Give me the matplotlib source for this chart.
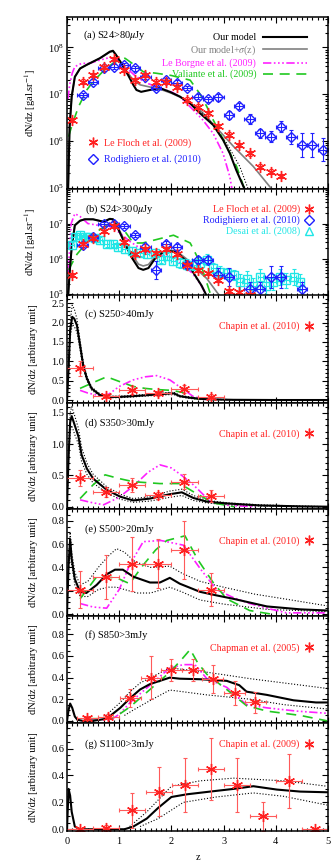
import numpy as np
import matplotlib
matplotlib.use('Agg')
import matplotlib.pyplot as plt
from matplotlib.lines import Line2D
from matplotlib.ticker import MultipleLocator, LogLocator, FormatStrFormatter, NullFormatter

plt.rcParams['font.family'] = ['Liberation Serif', 'DejaVu Serif']
plt.rcParams['mathtext.fontset'] = 'stix'

# ---------------- Panel (a) S24>80 uJy (log10 values) ----------------
a_model_z = [0.02, 0.05, 0.09, 0.15, 0.25, 0.38, 0.63, 0.82, 0.88, 0.94, 1.04, 1.17, 1.27, 1.33, 1.42,
             1.59, 1.78, 1.97, 2.16, 2.36, 2.55, 2.80, 2.99, 3.12, 3.24, 3.40]
a_model = [4.9, 6.3, 6.95, 7.37, 7.55, 7.63, 7.77, 7.91, 7.93, 7.84, 7.66, 7.41, 7.20, 7.09, 7.05,
           7.09, 7.13, 7.05, 6.95, 6.80, 6.59, 6.34, 6.02, 5.73, 5.38, 4.97]
a_sig_z = [0.02, 0.05, 0.09, 0.15, 0.25, 0.38, 0.63, 0.82, 0.88, 0.94, 1.04, 1.17, 1.27, 1.40, 1.60,
           1.80, 2.00, 2.20, 2.40, 2.55, 2.80, 3.19, 3.57, 3.92]
a_sig = [4.9, 6.3, 6.95, 7.37, 7.55, 7.63, 7.77, 7.90, 7.92, 7.84, 7.67, 7.45, 7.30, 7.20, 7.15,
         7.10, 7.02, 6.92, 6.78, 6.66, 6.36, 5.88, 5.45, 4.97]
a_dot_z = [2.40, 2.68, 3.06, 3.31, 3.47]
a_dot = [6.75, 6.52, 5.95, 5.45, 4.97]
a_lb_z = [0.02, 0.05, 0.10, 0.15, 0.28, 0.43, 0.60, 0.80, 0.95, 1.10, 1.30, 1.50, 1.80, 2.00, 2.16,
          2.42, 2.60, 2.80, 2.99, 3.12, 3.16]
a_lb = [6.9, 7.2, 7.45, 7.59, 7.66, 7.66, 7.72, 7.78, 7.75, 7.60, 7.40, 7.25, 7.12, 7.05, 6.95,
        6.66, 6.45, 6.16, 5.73, 5.23, 4.97]
a_va_z = [0.03, 0.10, 0.22, 0.38, 0.50, 0.70, 0.90, 1.11, 1.30, 1.46, 1.70, 2.00, 2.36, 2.55, 2.68,
          2.80, 3.06, 3.25, 3.40]
a_va = [6.09, 6.35, 6.73, 7.09, 7.27, 7.50, 7.68, 7.77, 7.62, 7.48, 7.45, 7.40, 7.30, 7.00, 6.73,
        6.45, 5.88, 5.45, 4.97]
a_lf_z = [0.1, 0.3, 0.5, 0.7, 0.9, 1.1, 1.3, 1.5, 1.7, 1.9, 2.1, 2.3, 2.5, 2.7, 2.9, 3.1, 3.3, 3.5,
          3.7, 3.9, 4.1]
a_lf = [6.45, 7.27, 7.41, 7.59, 7.75, 7.52, 7.30, 7.41, 7.27, 7.27, 7.16, 6.88, 6.73, 6.59, 6.32,
        6.13, 5.91, 5.73, 5.45, 5.34, 5.25]
a_lf_err = [0.05] * 21
a_ro_z = [0.3, 0.5, 0.7, 0.9, 1.1, 1.3, 1.5, 1.7, 1.9, 2.1, 2.3, 2.5, 2.7, 2.9, 3.1, 3.3, 3.5, 3.7,
          3.9, 4.1, 4.3, 4.5, 4.7, 4.9]
a_ro = [6.98, 7.27, 7.55, 7.59, 7.62, 7.55, 7.37, 7.13, 7.30, 7.25, 7.13, 6.95, 6.89, 6.93, 6.55,
        6.75, 6.47, 6.16, 6.09, 6.30, 6.09, 5.91, 5.91, 5.81]
a_ro_err = [0.05] * 13 + [0.07, 0.08, 0.07, 0.10, 0.10, 0.12, 0.12, 0.15, 0.25, 0.25, 0.25]

# ---------------- Panel (b) S24>300 uJy (log10 values) ----------------
b_model_z = [0.02, 0.05, 0.09, 0.15, 0.25, 0.34, 0.50, 0.70, 0.82, 0.88, 0.98, 1.11, 1.24, 1.37, 1.46,
             1.56, 1.72, 1.91, 2.10, 2.29, 2.45, 2.58, 2.68]
b_model = [4.9, 5.6, 6.33, 6.95, 7.08, 7.12, 7.12, 7.05, 7.13, 7.12, 6.85, 6.43, 6.04, 5.74, 5.69,
           5.74, 6.08, 6.23, 6.19, 5.93, 5.54, 5.24, 4.94]
b_sig_z = [0.02, 0.05, 0.09, 0.15, 0.25, 0.34, 0.50, 0.70, 0.82, 0.88, 0.98, 1.11, 1.24, 1.37, 1.46,
           1.56, 1.72, 1.91, 2.10, 2.29, 2.45, 2.68, 2.93]
b_sig = [4.9, 5.6, 6.33, 6.95, 7.08, 7.12, 7.12, 7.05, 7.14, 7.13, 6.88, 6.50, 6.12, 5.85, 5.80,
         5.84, 6.12, 6.26, 6.22, 6.00, 5.75, 5.44, 4.94]
b_lb_z = [0.02, 0.08, 0.15, 0.25, 0.40, 0.60, 0.80, 1.00, 1.20, 1.50, 1.80, 2.00, 2.20, 2.40, 2.55, 2.66]
b_lb = [5.6, 7.0, 7.28, 7.2, 7.0, 6.95, 6.93, 6.75, 6.50, 6.20, 6.10, 6.05, 5.85, 5.60, 5.30, 5.00]
b_va_z = [0.03, 0.19, 0.40, 0.60, 0.89, 1.05, 1.27, 1.45, 1.72, 2.04, 2.36, 2.55, 2.74]
b_va = [5.69, 6.13, 6.50, 6.80, 7.05, 6.90, 6.45, 6.45, 6.55, 6.67, 6.45, 5.90, 5.04]
b_lf_z = [0.1, 0.3, 0.5, 0.7, 0.9, 1.1, 1.3, 1.5, 1.7, 1.9, 2.1, 2.3, 2.5, 2.7, 2.9, 3.1, 3.3, 3.5]
b_lf = [5.54, 6.43, 6.58, 6.78, 6.93, 6.48, 6.13, 6.28, 6.18, 6.28, 6.13, 5.84, 5.69, 5.59, 5.39,
        5.09, 5.05, 4.99]
b_lf_err = [0.05] * 18
b_ro_z = [0.3, 0.5, 0.7, 0.9, 1.1, 1.3, 1.5, 1.7, 1.9, 2.1, 2.3, 2.5, 2.7, 2.9, 3.1, 3.5, 3.7, 3.9,
          4.1, 4.5]
b_ro = [6.40, 6.63, 6.98, 6.98, 6.93, 6.68, 6.33, 5.69, 6.43, 6.33, 5.84, 5.98, 5.98, 5.54, 5.49,
        5.14, 5.14, 5.49, 5.49, 5.14]
b_ro_err = [0.05, 0.05, 0.05, 0.05, 0.05, 0.06, 0.08, 0.25, 0.08, 0.08, 0.10, 0.10, 0.10, 0.20, 0.25,
            0.20, 0.20, 0.30, 0.30, 0.20]
b_de_z = [0.09, 0.15, 0.25, 0.34, 0.44, 0.54, 0.63, 0.76, 0.89, 0.98, 1.11, 1.24, 1.40, 1.53, 1.69,
          1.81, 1.91, 2.04, 2.16, 2.29, 2.42, 2.55, 2.68, 2.80, 2.93, 3.06, 3.19, 3.31, 3.44, 3.57,
          3.70, 3.82, 3.95, 4.08, 4.20, 4.34, 4.46]
b_de = [6.38, 6.63, 6.68, 6.63, 6.63, 6.58, 6.53, 6.43, 6.43, 6.33, 6.28, 6.23, 6.18, 6.13, 6.18,
        5.98, 6.08, 5.93, 5.88, 5.84, 5.84, 5.89, 5.98, 5.74, 5.64, 5.59, 5.54, 5.34, 5.44, 5.24,
        5.49, 5.24, 5.34, 5.49, 5.39, 5.49, 5.34]
b_de_err = [0.10] * 18 + [0.15] * 9 + [0.22] * 10

# ---------------- Panel (c) S250>40 mJy ----------------
c_model_z = [0.0, 0.03, 0.06, 0.10, 0.14, 0.19, 0.25, 0.31, 0.38, 0.47, 0.63, 0.82, 1.00, 1.27, 1.59,
             1.97, 2.05, 2.16, 2.35, 2.55, 2.80, 3.19, 4.00, 5.00]
c_model = [0.0, 0.8, 1.8, 2.15, 2.10, 1.93, 1.42, 0.90, 0.56, 0.30, 0.13, 0.08, 0.08, 0.10, 0.13,
           0.17, 0.17, 0.10, 0.06, 0.03, 0.015, 0.005, 0.0, 0.0]
c_up = [0.0, 0.9, 2.0, 2.45, 2.35, 2.10, 1.55, 1.00, 0.62, 0.34, 0.16, 0.10, 0.10, 0.12, 0.15,
        0.20, 0.20, 0.12, 0.08, 0.04, 0.02, 0.01, 0.0, 0.0]
c_lo = [0.0, 0.7, 1.6, 1.95, 1.90, 1.75, 1.30, 0.80, 0.50, 0.26, 0.10, 0.06, 0.06, 0.08, 0.11,
        0.14, 0.14, 0.08, 0.04, 0.02, 0.01, 0.0, 0.0, 0.0]
c_lb_z = [0.25, 0.40, 0.60, 0.80, 1.00, 1.27, 1.50, 1.72, 1.97, 2.20, 2.42, 2.70]
c_lb = [0.25, 0.18, 0.12, 0.15, 0.35, 0.52, 0.60, 0.63, 0.52, 0.30, 0.09, 0.0]
c_va_z = [0.25, 0.50, 0.76, 1.00, 1.27, 1.50, 1.72, 2.00, 2.20, 2.42, 2.65]
c_va = [0.30, 0.45, 0.60, 0.48, 0.35, 0.30, 0.27, 0.25, 0.20, 0.05, 0.0]
c_obs_z = [0.25, 0.75, 1.25, 1.75, 2.25, 2.75]
c_obs = [0.82, 0.11, 0.26, 0.17, 0.28, 0.09]
c_obs_err = [0.20, 0.05, 0.10, 0.06, 0.10, 0.06]

# ---------------- Panel (d) S350>30 mJy ----------------
d_model_z = [0.0, 0.03, 0.06, 0.09, 0.15, 0.22, 0.28, 0.38, 0.50, 0.76, 1.02, 1.27, 1.59, 1.97, 2.20,
             2.42, 2.68, 3.10, 3.70, 4.50, 5.00]
d_model = [0.0, 0.8, 1.35, 1.45, 1.30, 1.12, 0.83, 0.61, 0.45, 0.27, 0.16, 0.10, 0.13, 0.20, 0.23,
           0.14, 0.08, 0.05, 0.02, 0.005, 0.0]
d_up = [0.0, 0.9, 1.50, 1.60, 1.45, 1.25, 0.95, 0.70, 0.52, 0.32, 0.20, 0.13, 0.16, 0.25, 0.28,
        0.18, 0.10, 0.06, 0.03, 0.01, 0.0]
d_lo = [0.0, 0.7, 1.20, 1.30, 1.15, 1.00, 0.72, 0.52, 0.38, 0.22, 0.12, 0.07, 0.09, 0.15, 0.18,
        0.10, 0.06, 0.03, 0.01, 0.0, 0.0]
d_lb_z = [0.25, 0.45, 0.70, 1.00, 1.30, 1.55, 1.78, 2.00, 2.20, 2.42, 2.75, 3.10, 3.60]
d_lb = [0.11, 0.07, 0.03, 0.15, 0.35, 0.55, 0.67, 0.62, 0.50, 0.35, 0.08, 0.02, 0.0]
d_va_z = [0.25, 0.50, 0.73, 1.00, 1.27, 1.78, 2.16, 2.42, 2.80, 3.20]
d_va = [0.13, 0.35, 0.51, 0.45, 0.40, 0.37, 0.37, 0.24, 0.06, 0.0]
d_obs_z = [0.25, 0.75, 1.25, 1.75, 2.25, 2.75]
d_obs = [0.46, 0.24, 0.35, 0.18, 0.40, 0.17]
d_obs_err = [0.13, 0.08, 0.11, 0.06, 0.12, 0.10]

# ---------------- Panel (e) S500>20 mJy ----------------
e_model_z = [0.0, 0.03, 0.06, 0.09, 0.15, 0.25, 0.37, 0.57, 0.76, 0.92, 1.07, 1.27, 1.59, 1.78, 1.97,
             2.16, 2.55, 2.86, 3.19, 3.83, 4.47, 4.98]
e_model = [0.0, 0.42, 0.64, 0.47, 0.30, 0.19, 0.18, 0.25, 0.34, 0.38, 0.38, 0.32, 0.27, 0.27, 0.31,
           0.26, 0.19, 0.16, 0.13, 0.065, 0.04, 0.03]
e_up_z = [0.0, 0.03, 0.06, 0.09, 0.15, 0.25, 0.40, 0.60, 0.80, 0.95, 1.10, 1.30, 1.60, 1.97, 2.20,
          2.55, 3.00, 3.60, 4.30, 4.98]
e_up = [0.0, 0.47, 0.70, 0.53, 0.36, 0.25, 0.28, 0.40, 0.50, 0.56, 0.53, 0.45, 0.40, 0.41, 0.35,
        0.28, 0.23, 0.17, 0.12, 0.07]
e_lo_z = [0.0, 0.03, 0.06, 0.09, 0.15, 0.25, 0.40, 0.60, 0.80, 0.95, 1.10, 1.34, 1.60, 1.97, 2.20,
          2.55, 3.00, 3.83, 4.98]
e_lo = [0.0, 0.37, 0.58, 0.42, 0.25, 0.15, 0.15, 0.21, 0.23, 0.23, 0.21, 0.18, 0.18, 0.23, 0.19,
        0.12, 0.085, 0.04, 0.02]
e_lb_z = [0.25, 0.50, 0.76, 1.00, 1.20, 1.46, 1.80, 2.23, 2.55, 2.86, 3.19, 3.50, 3.83, 4.20, 4.98]
e_lb = [0.09, 0.06, 0.05, 0.21, 0.42, 0.62, 0.63, 0.59, 0.39, 0.21, 0.14, 0.09, 0.05, 0.01, 0.01]
e_va_z = [0.25, 0.57, 0.95, 1.20, 1.46, 1.70, 1.91, 2.26, 2.50, 2.80, 3.06, 3.50, 3.90]
e_va = [0.13, 0.32, 0.31, 0.26, 0.42, 0.55, 0.63, 0.67, 0.47, 0.27, 0.13, 0.03, 0.0]
e_obs_z = [0.25, 0.75, 1.25, 1.75, 2.25, 2.75]
e_obs = [0.21, 0.32, 0.43, 0.43, 0.55, 0.21]
e_obs_err = [0.16, 0.19, 0.23, 0.21, 0.25, 0.14]

# ---------------- Panel (f) S850>3 mJy ----------------
f_model_z = [0.0, 0.03, 0.06, 0.10, 0.15, 0.20, 0.30, 0.50, 0.76, 1.02, 1.21, 1.40, 1.59, 1.78, 1.97,
             2.16, 2.55, 3.06, 3.30, 3.44, 3.83, 4.34, 4.77, 4.98]
f_model = [0.0, 0.10, 0.16, 0.12, 0.04, 0.01, 0.0, 0.0, 0.02, 0.12, 0.21, 0.29, 0.34, 0.37, 0.40,
           0.39, 0.385, 0.37, 0.33, 0.27, 0.24, 0.19, 0.17, 0.17]
f_up_z = [0.70, 1.02, 1.21, 1.40, 1.97, 2.68, 3.51, 4.98]
f_up = [0.03, 0.17, 0.27, 0.35, 0.49, 0.45, 0.39, 0.30]
f_lo_z = [1.10, 1.27, 1.60, 1.97, 2.68, 3.51, 4.15, 4.98]
f_lo = [0.05, 0.10, 0.19, 0.285, 0.24, 0.20, 0.15, 0.11]
f_lb_z = [0.40, 0.84, 1.00, 1.21, 1.59, 1.97, 2.23, 2.45, 2.68, 3.06, 3.44, 3.83, 4.40, 4.98]
f_lb = [0.01, 0.01, 0.06, 0.17, 0.33, 0.49, 0.52, 0.52, 0.39, 0.31, 0.15, 0.12, 0.09, 0.07]
f_va_z = [0.40, 0.84, 1.00, 1.21, 1.59, 1.97, 2.20, 2.36, 2.50, 2.68, 3.06, 3.44, 3.83, 4.47, 4.98]
f_va = [0.02, 0.02, 0.06, 0.13, 0.29, 0.45, 0.57, 0.66, 0.54, 0.43, 0.29, 0.14, 0.09, 0.05, 0.0]
f_obs_z = [0.39, 0.79, 1.21, 1.61, 2.00, 2.41, 2.79, 3.21, 3.61]
f_obs = [0.025, 0.04, 0.21, 0.40, 0.47, 0.47, 0.39, 0.26, 0.17]
f_obs_err = [0.02, 0.02, 0.08, 0.20, 0.10, 0.10, 0.13, 0.11, 0.10]
f_obs_xerr = [0.2, 0.2, 0.2, 0.2, 0.2, 0.2, 0.2, 0.2, 0.2]

# ---------------- Panel (g) S1100>3 mJy ----------------
g_model_z = [0.0, 0.03, 0.06, 0.09, 0.15, 0.25, 0.50, 1.00, 1.10, 1.27, 1.53, 1.75, 2.00, 2.30, 2.74,
             3.19, 3.57, 4.02, 4.47, 4.98]
g_model = [0.0, 0.30, 0.25, 0.13, 0.02, 0.0, 0.0, 0.0, 0.0, 0.02, 0.08, 0.16, 0.24, 0.26, 0.28,
           0.30, 0.32, 0.295, 0.28, 0.275]
g_up_z = [1.20, 1.53, 2.00, 2.55, 3.19, 4.15, 4.98]
g_up = [0.02, 0.13, 0.32, 0.36, 0.38, 0.36, 0.32]
g_lo_z = [1.40, 1.75, 2.23, 2.86, 3.57, 4.15, 4.98]
g_lo = [0.02, 0.08, 0.20, 0.24, 0.27, 0.245, 0.18]
g_obs_z = [0.24, 0.75, 1.25, 1.76, 2.26, 2.75, 3.25, 3.76, 4.25, 4.76]
g_obs = [0.0, 0.01, 0.14, 0.28, 0.33, 0.45, 0.33, 0.095, 0.36, 0.0]
g_obs_err = [0.01, 0.02, 0.13, 0.18, 0.20, 0.23, 0.20, 0.11, 0.20, 0.01]

# ---------------- styling ----------------
RED = '#ff2020'
RED_E = '#ff5a5a'
BLUE = '#2020ff'
CYAN = '#20e6e6'
MAG = '#ff20ff'
GRN = '#20c820'
GRAY = '#808080'
AST = (6, 2, 0)
LB_LS = (0, (5, 1.5, 1, 1.5, 1, 1.5, 1, 1.5))
VA_LS = (0, (6, 4))

W, H = 334, 866
fig = plt.figure(figsize=(W / 100, H / 100), dpi=100)

panels = [(17, 189), (189, 295.5), (295.5, 403), (403, 509), (509, 616), (616, 723), (723, 831)]
axes = []
for top, bot in panels:
    ax = fig.add_axes([67 / W, 1 - bot / H, 261 / W, (bot - top) / H])
    ax.set_xlim(0, 5)
    ax.xaxis.set_major_locator(MultipleLocator(1))
    ax.xaxis.set_minor_locator(MultipleLocator(0.1))
    ax.tick_params(which='both', direction='in', top=True, right=True, labelsize=7.5, width=0.8, pad=2)
    ax.tick_params(which='major', length=4)
    ax.tick_params(which='minor', length=2)
    for s in ax.spines.values():
        s.set_linewidth(1.1)
    axes.append(ax)

for ax in axes[:-1]:
    ax.tick_params(labelbottom=False)

LW = 1.5


def logpts(ax, z, lg, dlg, color, marker, ms, xerr=0.1, mfc='none'):
    lg = np.asarray(lg)
    dlg = np.asarray(dlg)
    y = 10 ** lg
    yerr = [y - 10 ** (lg - dlg), 10 ** (lg + dlg) - y]
    ax.errorbar(z, y, yerr=yerr, xerr=xerr, fmt='none', ecolor=color, elinewidth=0.8, capsize=1.5,
                capthick=0.8)
    ax.plot(z, y, ls='none', marker=marker, color=color, ms=ms, mfc=mfc, mew=1.0)


def linpts(ax, z, v, dv, xerr=0.25):
    ax.errorbar(z, v, yerr=dv, xerr=xerr, fmt='none', ecolor=RED_E, elinewidth=0.8, capsize=1.5,
                capthick=0.8)
    ax.plot(z, v, ls='none', marker=AST, color=RED, ms=8, mew=1.0)


def setup_log(ax, ylim, label):
    ax.set_yscale('log')
    ax.set_ylim(*ylim)
    ax.yaxis.set_major_locator(LogLocator(base=10, numticks=10))
    ax.yaxis.set_minor_locator(LogLocator(base=10, subs=np.arange(2, 10), numticks=20))
    ax.yaxis.set_minor_formatter(NullFormatter())
    ax.set_ylabel(label, fontsize=7.5)
    ax.yaxis.set_label_coords(-0.11, 0.5)


def setup_lin(ax, ylim, major, minor):
    ax.set_ylim(*ylim)
    ax.yaxis.set_major_locator(MultipleLocator(major))
    ax.yaxis.set_minor_locator(MultipleLocator(minor))
    ax.yaxis.set_major_formatter(FormatStrFormatter('%.1f'))
    ax.set_ylabel('dN/dz [arbitrary unit]', fontsize=7.5)
    ax.yaxis.set_label_coords(-0.11, 0.5)


def obs_legend(ax, label, marker, color, y):
    h = [Line2D([], [], ls='none', marker=marker, color=color, mfc='none', ms=7, mew=1.0)]
    leg = ax.legend(h, [label], loc='center right', bbox_to_anchor=(0.965, y), frameon=False,
                    markerfirst=False, fontsize=7.2, handlelength=1.0, handletextpad=0.4,
                    borderpad=0, labelcolor='linecolor')
    return leg


# ---- (a)
ax = axes[0]
ax.plot(a_sig_z, 10 ** np.array(a_sig), color=GRAY, lw=1.2)
ax.plot(a_dot_z, 10 ** np.array(a_dot), color='k', lw=0.8, ls=':')
ax.plot(a_lb_z, 10 ** np.array(a_lb), color=MAG, lw=1.2, ls=LB_LS)
ax.plot(a_va_z, 10 ** np.array(a_va), color=GRN, lw=1.2, ls=VA_LS)
ax.plot(a_model_z, 10 ** np.array(a_model), color='k', lw=LW)
logpts(ax, a_ro_z, a_ro, a_ro_err, BLUE, 'D', 5.5)
logpts(ax, a_lf_z, a_lf, a_lf_err, RED, AST, 8, xerr=None)
setup_log(ax, (9.3e4, 4.5e8), 'dN/dz [gal.sr$^{-1}$]')
ax.text(0.06, 0.895, r'(a) S24>80$\mu$Jy', transform=ax.transAxes, fontsize=7.5, va='center')
hl = [Line2D([], [], color='k', lw=LW), Line2D([], [], color=GRAY, lw=1.2),
      Line2D([], [], color=MAG, lw=1.2, ls=LB_LS), Line2D([], [], color=GRN, lw=1.2, ls=VA_LS)]
leg1 = ax.legend(hl, ['Our model', r'Our model+$\sigma$(z)', 'Le Borgne et al. (2009)',
                      'Valiante et al. (2009)'],
                 loc='upper right', bbox_to_anchor=(0.94, 0.935), frameon=False, markerfirst=False,
                 fontsize=7.2, handlelength=4.4, handletextpad=0.7, labelspacing=0.15,
                 borderpad=0, labelcolor='linecolor')
ax.add_artist(leg1)
hm = [Line2D([], [], ls='none', marker=AST, color=RED, ms=7, mew=1.0),
      Line2D([], [], ls='none', marker='D', color=BLUE, mfc='none', ms=5, mew=1.0)]
ax.legend(hm, ['Le Floch et al. (2009)', 'Rodighiero et al. (2010)'], loc='upper left',
          bbox_to_anchor=(0.06, 0.325), frameon=False, fontsize=7.2, handlelength=1.0,
          handletextpad=0.6, labelspacing=0.7, borderpad=0, labelcolor='linecolor')

# ---- (b)
ax = axes[1]
ax.plot(b_sig_z, 10 ** np.array(b_sig), color=GRAY, lw=1.2)
ax.plot(b_lb_z, 10 ** np.array(b_lb), color=MAG, lw=1.2, ls=LB_LS)
ax.plot(b_va_z, 10 ** np.array(b_va), color=GRN, lw=1.2, ls=VA_LS)
ax.plot(b_model_z, 10 ** np.array(b_model), color='k', lw=LW)
logpts(ax, b_de_z, b_de, b_de_err, CYAN, 's', 6, xerr=0.05)
logpts(ax, b_ro_z, b_ro, b_ro_err, BLUE, 'D', 5.5)
logpts(ax, b_lf_z, b_lf, b_lf_err, RED, AST, 8, xerr=None)
setup_log(ax, (9.2e4, 9.5e7), 'dN/dz [gal.sr$^{-1}$]')
ax.text(0.07, 0.81, r'(b) S24>300$\mu$Jy', transform=ax.transAxes, fontsize=7.5, va='center')
hb = [Line2D([], [], ls='none', marker=AST, color=RED, ms=7, mew=1.0),
      Line2D([], [], ls='none', marker='D', color=BLUE, mfc='none', ms=5, mew=1.0),
      Line2D([], [], ls='none', marker='^', color=CYAN, mfc='none', ms=6, mew=1.0)]
ax.legend(hb, ['Le Floch et al. (2009)', 'Rodighiero et al. (2010)', 'Desai et al. (2008)'],
          loc='upper right', bbox_to_anchor=(0.965, 0.90), frameon=False, markerfirst=False,
          fontsize=7.2, handlelength=1.0, handletextpad=0.4, labelspacing=0.15, borderpad=0,
          labelcolor='linecolor')

# ---- (c)
ax = axes[2]
ax.plot(c_model_z, c_up, color='k', lw=0.8, ls=':')
ax.plot(c_model_z, c_lo, color='k', lw=0.8, ls=':')
ax.plot(c_lb_z, c_lb, color=MAG, lw=1.2, ls=LB_LS)
ax.plot(c_va_z, c_va, color=GRN, lw=1.2, ls=VA_LS)
ax.plot(c_model_z, c_model, color='k', lw=LW)
linpts(ax, c_obs_z, c_obs, c_obs_err)
setup_lin(ax, (-0.077, 2.7), 0.5, 0.1)
ax.text(0.07, 0.825, '(c) S250>40mJy', transform=ax.transAxes, fontsize=7.5, va='center')
obs_legend(ax, 'Chapin et al. (2010)', AST, RED, 0.71)

# ---- (d)
ax = axes[3]
ax.plot(d_model_z, d_up, color='k', lw=0.8, ls=':')
ax.plot(d_model_z, d_lo, color='k', lw=0.8, ls=':')
ax.plot(d_lb_z, d_lb, color=MAG, lw=1.2, ls=LB_LS)
ax.plot(d_va_z, d_va, color=GRN, lw=1.2, ls=VA_LS)
ax.plot(d_model_z, d_model, color='k', lw=LW)
linpts(ax, d_obs_z, d_obs, d_obs_err)
setup_lin(ax, (-0.037, 1.66), 0.5, 0.1)
ax.text(0.07, 0.81, '(d) S350>30mJy', transform=ax.transAxes, fontsize=7.5, va='center')
obs_legend(ax, 'Chapin et al. (2010)', AST, RED, 0.71)

# ---- (e)
ax = axes[4]
ax.plot(e_up_z, e_up, color='k', lw=0.8, ls=':')
ax.plot(e_lo_z, e_lo, color='k', lw=0.8, ls=':')
ax.plot(e_lb_z, e_lb, color=MAG, lw=1.2, ls=LB_LS)
ax.plot(e_va_z, e_va, color=GRN, lw=1.2, ls=VA_LS)
ax.plot(e_model_z, e_model, color='k', lw=LW)
linpts(ax, e_obs_z, e_obs, e_obs_err)
setup_lin(ax, (-0.017, 0.9), 0.2, 0.05)
ax.text(0.07, 0.81, '(e) S500>20mJy', transform=ax.transAxes, fontsize=7.5, va='center')
obs_legend(ax, 'Chapin et al. (2010)', AST, RED, 0.70)

# ---- (f)
ax = axes[5]
ax.plot(f_up_z, f_up, color='k', lw=0.8, ls=':')
ax.plot(f_lo_z, f_lo, color='k', lw=0.8, ls=':')
ax.plot(f_lb_z, f_lb, color=MAG, lw=1.2, ls=LB_LS)
ax.plot(f_va_z, f_va, color=GRN, lw=1.2, ls=VA_LS)
ax.plot(f_model_z, f_model, color='k', lw=LW)
linpts(ax, f_obs_z, f_obs, f_obs_err, xerr=f_obs_xerr)
setup_lin(ax, (-0.02, 0.97), 0.2, 0.05)
ax.text(0.07, 0.82, '(f) S850>3mJy', transform=ax.transAxes, fontsize=7.5, va='center')
obs_legend(ax, 'Chapman et al. (2005)', AST, RED, 0.70)

# ---- (g)
ax = axes[6]
ax.plot(g_up_z, g_up, color='k', lw=0.8, ls=':')
ax.plot(g_lo_z, g_lo, color='k', lw=0.8, ls=':')
ax.plot(g_model_z, g_model, color='k', lw=LW)
linpts(ax, g_obs_z, g_obs, g_obs_err)
setup_lin(ax, (-0.013, 0.79), 0.2, 0.05)
ax.text(0.07, 0.80, '(g) S1100>3mJy', transform=ax.transAxes, fontsize=7.5, va='center')
obs_legend(ax, 'Chapin et al. (2009)', AST, RED, 0.80)
ax.tick_params(axis='x', which='both', pad=4)
ax.set_xlabel('z', fontsize=7.5, labelpad=5)
ax.xaxis.set_major_formatter(FormatStrFormatter('%d'))

fig.savefig('out.png', dpi=100)
